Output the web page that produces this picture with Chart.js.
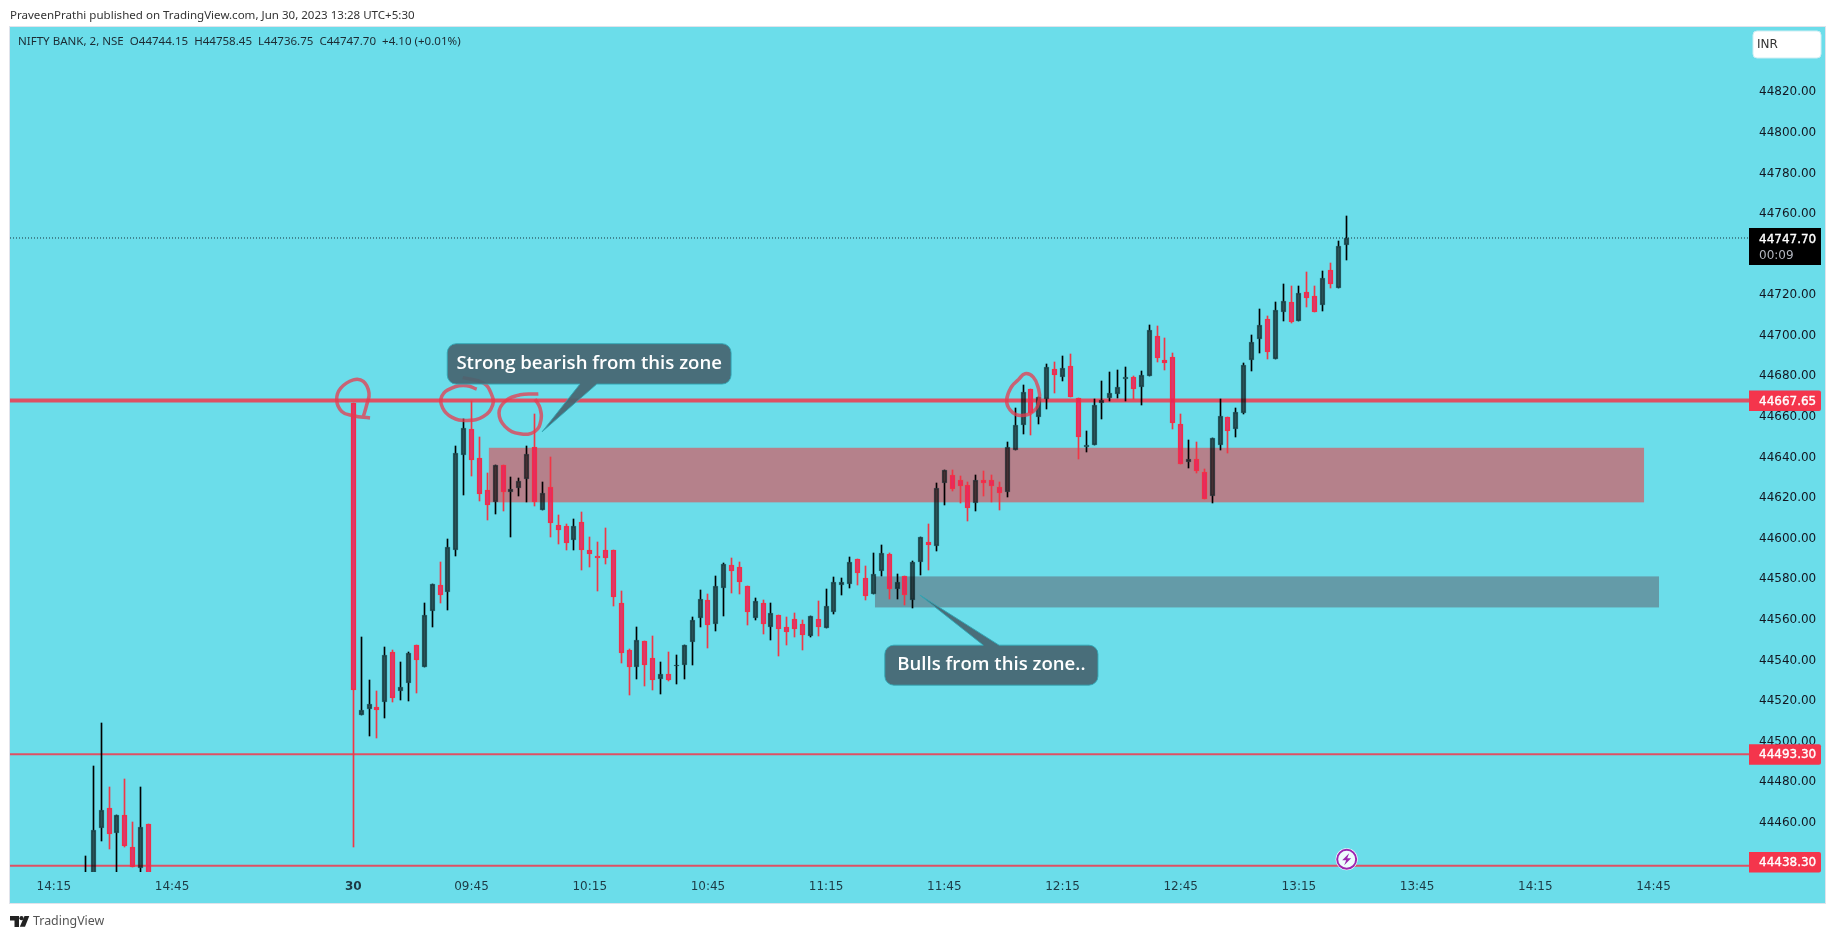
<!DOCTYPE html>
<html lang="en">
<head>
<meta charset="UTF-8" />
<title>NIFTY BANK, 2, NSE</title>
<script src="https://cdn.jsdelivr.net/npm/chart.js@4"></script>
<style>
  html, body { margin: 0; padding: 0; background: #fff; width: 1835px; height: 939px; overflow: hidden; }
  #wrap { position: relative; width: 1835px; height: 939px; }
  canvas { position: absolute; left: 0; top: 0; }
  .txt { position: absolute; white-space: pre; font-family: "Noto Sans", sans-serif; }
  #published { left: 10px; top: 7px; font-size: 11.55px; color: #333; line-height: 16px; }
  #legend { left: 18px; top: 33px; font-size: 11.55px; color: #1c2b33; line-height: 16px; }
  #brand { left: 33px; top: 912px; font-size: 12.4px; color: #555; line-height: 18px; }
  #logo { position: absolute; left: 10px; top: 916px; }
</style>
</head>
<body>
<div id="wrap">
  <canvas id="chart" width="1835" height="939"></canvas>
  <div class="txt" id="published">PraveenPrathi published on TradingView.com, Jun 30, 2023 13:28 UTC+5:30</div>
  <div class="txt" id="legend">NIFTY BANK, 2, NSE  O44744.15  H44758.45  L44736.75  C44747.70  +4.10 (+0.01%)</div>
  <svg id="logo" width="20" height="11" viewBox="0 0 20 11"><path d="M0 0H9V11H4.5V4.5H0Z M14.5 0H19.3L15 10.7H9.8Z" fill="#222"/><circle cx="11.5" cy="2.2" r="2.1" fill="#222"/></svg>
  <div class="txt" id="brand">TradingView</div>
</div>

<script>
// previous session, bars before the gap (bar index -34 to -26)
const prevOpen  = [44432.0, 44430.0, 44456.8, 44466.7, 44454.4, 44463.2, 44447.5, 44437.1, 44458.8];
const prevHigh  = [44443.0, 44487.3, 44508.5, 44477.0, 44463.2, 44480.9, 44459.8, 44477.0, 44458.8];
const prevLow   = [44428.0, 44428.0, 44450.4, 44446.5, 44432.0, 44447.5, 44437.6, 44434.0, 44430.0];
const prevClose = [44434.0, 44455.8, 44465.7, 44453.9, 44463.2, 44448.0, 44437.6, 44457.3, 44432.0];

// Jun 30, from the 09:15 bar on
const opens = [
  44666.5, 44512.6, 44515.4, 44516.4, 44519.0, 44543.4, 44524.2, 44528.3, 44546.9, 44536.2,
  44563.8, 44576.9, 44573.1, 44593.8, 44640.9, 44653.7, 44639.4, 44623.7, 44617.8, 44636.0,
  44622.7, 44624.7, 44629.1, 44644.8, 44613.8, 44625.2, 44606.0, 44605.5, 44598.6, 44607.5,
  44594.1, 44591.2, 44593.7, 44593.7, 44567.6, 44544.4, 44536.1, 44548.9, 44540.5, 44530.2,
  44532.6, 44536.5, 44537.0, 44548.4, 44560.2, 44569.5, 44557.2, 44575.4, 44586.3, 44585.3,
  44576.0, 44560.2, 44567.6, 44555.8, 44562.1, 44556.2, 44559.7, 44557.2, 44551.3, 44559.7,
  44555.3, 44563.6, 44576.9, 44577.4, 44589.7, 44579.9, 44572.0, 44583.8, 44591.7, 44574.5,
  44580.9, 44569.5, 44587.8, 44598.1, 44596.1, 44627.1, 44631.0, 44628.6, 44626.1, 44617.3,
  44628.6, 44628.6, 44625.2, 44622.7, 44643.4, 44655.7, 44673.4, 44659.6, 44668.5, 44683.2,
  44679.3, 44684.7, 44669.0, 44644.8, 44645.8, 44666.5, 44669.0, 44670.9, 44678.3, 44679.3,
  44674.4, 44679.8, 44699.5, 44687.6, 44689.1, 44656.1, 44637.4, 44638.9, 44632.5, 44620.7,
  44645.8, 44659.6, 44653.7, 44661.6, 44687.6, 44698.0, 44707.8, 44688.1, 44711.3, 44716.2,
  44706.8, 44721.1, 44719.1, 44714.7, 44732.0, 44723.1, 44744.15
];
const highs = [
  44666.5, 44550.8, 44529.7, 44524.2, 44545.9, 44544.4, 44538.5, 44543.4, 44546.9, 44568.0,
  44577.4, 44587.8, 44599.1, 44645.3, 44658.6, 44667.5, 44649.8, 44632.0, 44636.0, 44636.0,
  44630.1, 44629.6, 44645.3, 44661.1, 44627.6, 44639.9, 44611.4, 44606.5, 44609.4, 44612.8,
  44600.5, 44598.1, 44605.0, 44593.7, 44573.5, 44544.9, 44556.2, 44548.9, 44551.3, 44538.5,
  44543.4, 44542.4, 44546.9, 44560.7, 44574.0, 44572.0, 44580.9, 44587.3, 44590.2, 44588.2,
  44576.4, 44570.5, 44569.5, 44567.6, 44562.1, 44560.7, 44563.1, 44559.2, 44561.2, 44569.0,
  44574.5, 44580.4, 44579.9, 44590.7, 44589.7, 44585.8, 44592.2, 44596.6, 44592.2, 44582.3,
  44580.9, 44588.7, 44600.5, 44606.5, 44627.1, 44633.5, 44633.5, 44630.6, 44627.6, 44631.0,
  44633.0, 44631.0, 44627.6, 44647.3, 44664.0, 44675.3, 44673.4, 44669.5, 44685.7, 44686.7,
  44689.6, 44690.6, 44669.0, 44652.7, 44668.5, 44677.3, 44681.7, 44682.7, 44684.2, 44679.8,
  44682.2, 44704.9, 44704.4, 44698.5, 44691.1, 44661.1, 44648.3, 44647.3, 44634.0, 44649.3,
  44668.5, 44659.6, 44664.0, 44686.2, 44700.0, 44712.7, 44709.3, 44716.2, 44725.0, 44724.1,
  44724.1, 44731.0, 44724.1, 44731.4, 44735.4, 44746.2, 44758.45
];
const lows = [
  44447.6, 44512.6, 44502.2, 44501.1, 44511.1, 44519.0, 44520.0, 44519.5, 44523.4, 44536.0,
  44555.8, 44567.7, 44564.3, 44590.8, 44620.9, 44630.6, 44618.3, 44608.9, 44611.9, 44612.9,
  44600.5, 44620.7, 44617.8, 44615.8, 44613.8, 44600.5, 44597.1, 44594.1, 44593.7, 44584.3,
  44585.3, 44573.6, 44586.8, 44566.2, 44538.0, 44522.3, 44530.2, 44526.7, 44524.8, 44522.8,
  44529.2, 44527.7, 44530.2, 44537.0, 44556.2, 44545.4, 44553.8, 44561.2, 44572.5, 44572.0,
  44556.7, 44559.2, 44552.3, 44549.4, 44541.5, 44546.9, 44550.8, 44544.4, 44550.8, 44551.3,
  44555.3, 44562.6, 44571.5, 44575.4, 44576.9, 44569.5, 44572.0, 44580.9, 44570.0, 44570.0,
  44566.6, 44565.1, 44581.4, 44584.3, 44593.2, 44616.3, 44623.2, 44617.3, 44608.4, 44613.3,
  44620.7, 44617.8, 44613.8, 44620.2, 44643.4, 44651.2, 44650.7, 44656.2, 44663.5, 44671.4,
  44677.3, 44669.5, 44638.9, 44642.4, 44645.8, 44658.6, 44667.5, 44669.0, 44667.5, 44668.5,
  44665.5, 44679.8, 44686.7, 44682.7, 44653.7, 44636.5, 44634.5, 44632.0, 44619.2, 44617.3,
  44643.4, 44641.9, 44649.8, 44661.1, 44682.2, 44691.1, 44688.1, 44688.1, 44706.8, 44705.8,
  44706.8, 44713.7, 44711.3, 44711.8, 44723.1, 44723.1, 44736.75
];
const closes = [
  44524.9, 44514.9, 44517.8, 44514.9, 44542.4, 44520.9, 44526.2, 44542.9, 44539.7, 44562.1,
  44577.4, 44571.7, 44595.6, 44641.9, 44654.2, 44638.5, 44621.7, 44616.3, 44636.0, 44622.7,
  44624.2, 44628.1, 44641.4, 44617.8, 44622.2, 44607.0, 44604.0, 44597.6, 44605.5, 44593.7,
  44591.7, 44590.2, 44590.2, 44570.7, 44543.0, 44536.1, 44549.4, 44537.0, 44529.7, 44532.6,
  44529.7, 44537.0, 44546.9, 44559.2, 44570.0, 44556.7, 44576.0, 44586.8, 44583.8, 44577.9,
  44563.6, 44569.0, 44557.2, 44563.1, 44554.8, 44553.3, 44554.8, 44551.8, 44561.2, 44556.2,
  44566.1, 44577.9, 44577.9, 44587.8, 44582.8, 44571.0, 44582.3, 44592.2, 44574.5, 44577.9,
  44571.5, 44588.2, 44600.5, 44596.6, 44624.7, 44633.5, 44624.2, 44625.6, 44614.8, 44628.6,
  44627.1, 44625.6, 44622.2, 44644.8, 44655.7, 44671.9, 44661.6, 44669.5, 44684.2, 44680.3,
  44683.7, 44669.5, 44649.8, 44645.8, 44665.5, 44668.0, 44671.4, 44674.4, 44679.3, 44673.4,
  44680.3, 44702.4, 44688.6, 44686.2, 44656.6, 44636.5, 44638.9, 44633.0, 44619.2, 44649.3,
  44660.1, 44652.7, 44662.1, 44685.2, 44696.5, 44704.9, 44691.6, 44712.3, 44716.7, 44706.3,
  44720.6, 44718.1, 44711.3, 44728.0, 44725.0, 44743.7, 44747.70
];

const priceTicks = [44460, 44480, 44500, 44520, 44540, 44560, 44580, 44600, 44620, 44640, 44660, 44680, 44700, 44720, 44740, 44760, 44780, 44800, 44820];
const timeTickBars = [-38, -23, 0, 15, 30, 45, 60, 75, 90, 105, 120, 135, 150, 165];
const timeTickLabels = ["14:15", "14:45", "30", "09:45", "10:15", "10:45", "11:15", "11:45", "12:15", "12:45", "13:15", "13:45", "14:15", "14:45"];

const lastPrice = 44747.70;
const countdown = "00:09";
const levelThick = 44667.65;
const levelThin = [44493.30, 44438.30];

// drawn shapes: [first bar, last bar, low price, high price]
const redZone = [17.2, 163.8, 44617.4, 44644.3];
const tealZone = [66.2, 165.7, 44565.6, 44580.9];

// hand drawn circles, bar index and price
const circleBars = [
  [2.12, 0, -1.47, -2.11, -1.6, 0, 1.27, 1.99, 1.7, 1.27],
  [13.88, 16.5, 17.56, 17.69, 16.5, 14.39, 12.48, 11.34, 11.21, 12.48, 14.39, 15.66],
  [23.48, 21.16, 19.25, 18.49, 19.25, 21.16, 23.06, 23.82, 23.69, 23.06],
  [84.39, 85.24, 86.29, 86.93, 87.06, 86.29, 84.6, 83.34, 82.92, 83.55, 84.39]
];
const circlePrices = [
  [44659.0, 44660.1, 44662.2, 44668.0, 44673.7, 44677.8, 44677.0, 44671.3, 44665.5, 44659.7],
  [44678.9, 44676.2, 44670.4, 44665.5, 44659.7, 44657.8, 44659.4, 44663.9, 44669.6, 44673.7, 44674.9, 44673.2],
  [44670.8, 44670.4, 44667.1, 44661.4, 44654.8, 44651.2, 44652.4, 44658.1, 44663.9, 44668.3],
  [44677.8, 44680.8, 44679.1, 44673.7, 44668.0, 44662.2, 44660.2, 44663.0, 44668.0, 44674.5, 44677.8]
];

// callouts: text, box left/right bar, box top/bottom price, tail base bars, tip bar and price
const calloutText = ["Strong bearish from this zone", "Bulls from this zone.."];
const calloutBox = [[11.92, 47.94, 44695.6, 44675.7], [67.45, 94.5, 44547.0, 44527.3]];
const calloutBase = [[28.76, 30.9], [79.95, 81.95]];
const calloutTip = [[23.96, 44652.2], [71.9, 44571.7]];

const firstPrevBar = -34;
const BG = "#6BDDEA";
const RED = "#F23645";
const FONT = '"DejaVu Sans", sans-serif';

const candles = [];
prevOpen.forEach((o, i) => candles.push({ x: firstPrevBar + i, o, h: prevHigh[i], l: prevLow[i], c: prevClose[i] }));
opens.forEach((o, i) => candles.push({ x: i, o, h: highs[i], l: lows[i], c: closes[i] }));

const isUp = c => c.c >= c.o;
const bgColors = candles.map(c => isUp(c) ? "rgba(0,0,0,0.62)" : "rgba(238,30,85,0.85)");
const edgeColors = candles.map(c => isUp(c) ? "rgba(0,30,35,0.6)" : RED);
const wickColors = candles.map(c => isUp(c) ? "#000" : RED);

const hLine = (value, width, color, dash) => ({
  type: "line",
  data: [{ x: -43.57, y: value }, { x: 177.12, y: value }],
  borderColor: color, borderWidth: width, borderDash: dash || [],
  pointRadius: 0, order: 5
});

const circleSets = circleBars.map((bars, k) => ({
  type: "line",
  data: bars.map((b, i) => ({ x: b, y: circlePrices[k][i] })),
  borderColor: "rgba(232,58,78,0.75)", borderWidth: 3.5, tension: 0.45,
  pointRadius: 0, order: 0
}));

// upper and lower wick apart, the bodies are see-through
const wickSet = (pick) => ({
  type: "bar",
  isWick: true,
  data: candles.map(c => ({ x: c.x, y: pick(c) })),
  backgroundColor: wickColors,
  barThickness: 1,
  grouped: false,
  order: 3
});

// semi transparent candles sit over the zones, so fill these first
const zonesPlugin = {
  id: "zones",
  beforeDatasetsDraw(chart) {
    const { ctx, scales: { x, y }, chartArea: a } = chart;
    ctx.save();
    ctx.beginPath();
    ctx.rect(a.left, a.top, a.width, a.height);
    ctx.clip();
    [[redZone, "#B5818B"], [tealZone, "#649BA8"]].forEach(([z, col]) => {
      ctx.fillStyle = col;
      ctx.fillRect(x.getPixelForValue(z[0]), y.getPixelForValue(z[3]),
        x.getPixelForValue(z[1]) - x.getPixelForValue(z[0]), y.getPixelForValue(z[2]) - y.getPixelForValue(z[3]));
    });
    ctx.restore();
  }
};

// background of the pane, with its thin border
const panePlugin = {
  id: "pane",
  beforeDraw(chart) {
    const { ctx, width, height } = chart;
    ctx.save();
    ctx.fillStyle = "#fff";
    ctx.fillRect(0, 0, width, height);
    ctx.fillStyle = BG;
    ctx.fillRect(10, 27, 1815, 876);
    ctx.strokeStyle = "#e0e3eb";
    ctx.lineWidth = 1;
    ctx.strokeRect(9.5, 26.5, 1816, 877);
    ctx.restore();
  }
};

// keep candles on whole pixels so wicks stay sharp
const snapPlugin = {
  id: "snap",
  afterDatasetsUpdate(chart) {
    chart.data.datasets.forEach((ds, k) => {
      if (ds.type !== "bar") return;
      chart.getDatasetMeta(k).data.forEach(el => {
        el.x = Math.floor(el.x) + 0.5;
        let top = Math.round(Math.min(el.y, el.base));
        let bottom = Math.round(Math.max(el.y, el.base));
        if (!ds.isWick && bottom - top < 1) bottom = top + 1;
        el.y = top;
        el.base = bottom;
      });
    });
  }
};

function roundBox(ctx, x, y, w, h, r) {
  ctx.beginPath();
  ctx.roundRect(x, y, w, h, r);
}

const overlayPlugin = {
  id: "overlay",
  afterDatasetsDraw(chart) {
    const { ctx, scales: { x, y }, chartArea: a } = chart;
    ctx.save();

    // callouts
    calloutText.forEach((text, k) => {
      const box = calloutBox[k];
      const left = x.getPixelForValue(box[0]), right = x.getPixelForValue(box[1]);
      const top = y.getPixelForValue(box[2]), bottom = y.getPixelForValue(box[3]);
      const b0 = x.getPixelForValue(calloutBase[k][0]), b1 = x.getPixelForValue(calloutBase[k][1]);
      const tx = x.getPixelForValue(calloutTip[k][0]), ty = y.getPixelForValue(calloutTip[k][1]);
      const r = 9;
      ctx.beginPath();
      ctx.moveTo(left + r, top);
      if (ty < top) {
        ctx.lineTo(b0, top); ctx.lineTo(tx, ty); ctx.lineTo(b1, top);
      }
      ctx.arcTo(right, top, right, bottom, r);
      ctx.arcTo(right, bottom, left, bottom, r);
      if (ty > bottom) {
        ctx.lineTo(b1, bottom); ctx.lineTo(tx, ty); ctx.lineTo(b0, bottom);
      }
      ctx.arcTo(left, bottom, left, top, r);
      ctx.arcTo(left, top, right, top, r);
      ctx.closePath();
      ctx.fillStyle = "rgba(70,100,112,0.92)";
      ctx.fill();
      ctx.strokeStyle = "rgba(50,165,180,0.9)";
      ctx.lineWidth = 1;
      ctx.stroke();
      ctx.fillStyle = "#fff";
      ctx.font = '600 18.6px "Open Sans", sans-serif';
      ctx.textAlign = "center";
      ctx.textBaseline = "middle";
      ctx.fillText(text, (left + right) / 2, (top + bottom) / 2);
    });

    // bolt marker on the last bar
    const mx = x.getPixelForValue(126) + 0.5, my = a.bottom - 12.7;
    ctx.beginPath(); ctx.arc(mx, my, 11, 0, Math.PI * 2); ctx.fillStyle = "#fff"; ctx.fill();
    ctx.beginPath(); ctx.arc(mx, my, 9.5, 0, Math.PI * 2); ctx.fillStyle = "#eefcfd"; ctx.fill();
    ctx.strokeStyle = "#9C27B0"; ctx.lineWidth = 2; ctx.stroke();
    ctx.beginPath();
    ctx.moveTo(mx + 2.5, my - 6); ctx.lineTo(mx - 4.5, my + 1); ctx.lineTo(mx - 0.5, my + 1);
    ctx.lineTo(mx - 2.5, my + 6); ctx.lineTo(mx + 4.5, my - 1); ctx.lineTo(mx + 0.5, my - 1);
    ctx.closePath();
    ctx.fillStyle = "#9C27B0"; ctx.fill();

    // price labels on the axis
    ctx.font = "12px " + FONT;
    ctx.textAlign = "left";
    ctx.textBaseline = "middle";
    [levelThick, ...levelThin].forEach(v => {
      const py = y.getPixelForValue(v);
      const top = Math.min(py - 10, a.bottom - 20);
      ctx.fillStyle = "#F4354C";
      roundBox(ctx, a.right, top, 72, 20.5, [0, 2, 2, 0]);
      ctx.fill();
      ctx.fillStyle = "#fff";
      ctx.fillText(v.toFixed(2), a.right + 10, top + 11);
      ctx.strokeStyle = "#fff"; ctx.lineWidth = 0.35;
      ctx.strokeText(v.toFixed(2), a.right + 10, top + 11);
    });
    const ly = y.getPixelForValue(lastPrice);
    ctx.fillStyle = "#000";
    ctx.fillRect(a.right, ly - 10, 72, 37);
    ctx.fillStyle = "#fff";
    ctx.fillText(lastPrice.toFixed(2), a.right + 10, ly + 1.5);
    ctx.strokeStyle = "#fff"; ctx.lineWidth = 0.35;
    ctx.strokeText(lastPrice.toFixed(2), a.right + 10, ly + 1.5);
    ctx.fillStyle = "#b2b5be";
    ctx.fillText(countdown, a.right + 10, ly + 17.5);

    // currency button
    ctx.fillStyle = "#fff";
    ctx.strokeStyle = "#cfeef3";
    ctx.lineWidth = 1;
    roundBox(ctx, a.right + 4, 31, 68, 27, 4);
    ctx.fill(); ctx.stroke();
    ctx.fillStyle = "#333";
    ctx.font = "12px " + FONT;
    ctx.fillText("INR", a.right + 8, 44.5);
    ctx.restore();
  }
};

new Chart(document.getElementById("chart").getContext("2d"), {
  data: {
    datasets: [
      hLine(levelThick, 4, "#DE5064"),
      hLine(levelThin[0], 2, "#DE5064"),
      hLine(levelThin[1], 2, "#DE5064"),
      hLine(lastPrice, 1, "#17343c", [1, 2]),
      wickSet(c => [Math.max(c.o, c.c), c.h]),
      wickSet(c => [c.l, Math.min(c.o, c.c)]),
      {
        type: "bar",
        data: candles.map(c => ({ x: c.x, y: [Math.min(c.o, c.c), Math.max(c.o, c.c)] })),
        backgroundColor: bgColors,
        borderColor: edgeColors,
        borderWidth: 1,
        borderSkipped: false,
        barThickness: 5,
        grouped: false,
        order: 2
      },
      ...circleSets
    ]
  },
  options: {
    responsive: false,
    animation: false,
    events: [],
    layout: { padding: { left: 10, top: 27, right: 10, bottom: 36 } },
    plugins: { legend: { display: false }, tooltip: { enabled: false } },
    scales: {
      x: {
        type: "linear",
        min: -43.57,
        max: 177.12,
        offset: false,
        grid: { display: false, drawTicks: false },
        border: { display: false },
        afterBuildTicks: s => { s.ticks = timeTickBars.map(v => ({ value: v })); },
        afterFit: s => { s.height = 31; },
        ticks: {
          autoSkip: false,
          maxRotation: 0,
          padding: 8,
          color: "#1d3a44",
          font: c => ({ family: FONT, size: 12, weight: c.tick && c.tick.value === 0 ? "bold" : "normal" }),
          callback: v => timeTickLabels[timeTickBars.indexOf(v)]
        }
      },
      y: {
        type: "linear",
        position: "right",
        min: 44435.2,
        max: 44851.7,
        grid: { display: false, drawTicks: false },
        border: { display: false },
        afterBuildTicks: s => { s.ticks = priceTicks.map(v => ({ value: v })); },
        afterFit: s => { s.width = 76; },
        ticks: {
          autoSkip: false,
          padding: 10,
          labelOffset: 1,
          color: "#131722",
          font: { family: FONT, size: 12 },
          callback: v => v.toFixed(2)
        }
      }
    }
  },
  plugins: [panePlugin, snapPlugin, zonesPlugin, overlayPlugin]
});
</script>
</body>
</html>
